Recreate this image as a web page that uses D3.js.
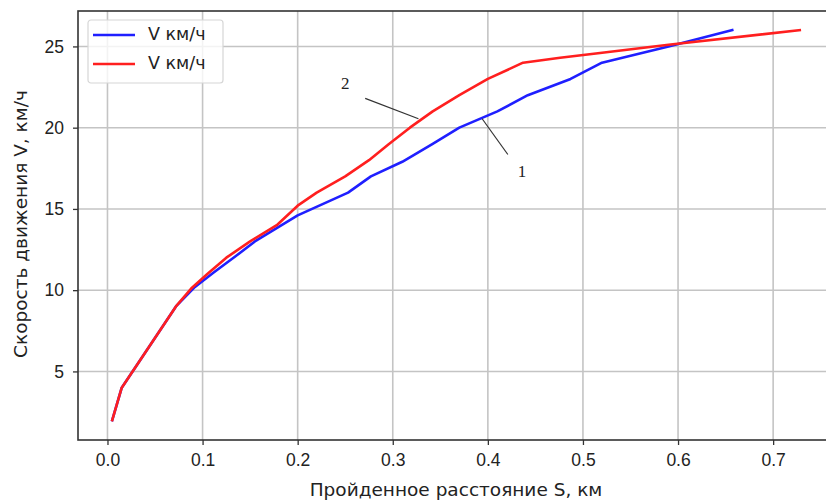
<!DOCTYPE html>
<html>
<head>
<meta charset="utf-8">
<script src="https://cdn.jsdelivr.net/npm/d3@7"></script>
<style>
  body { margin: 0; background: #fff; }
  svg { display: block; font-family: "DejaVu Sans", sans-serif; }
  .tick text { font-size: 17.5px; fill: #222; }
  .annot { font-family: "Liberation Serif", "DejaVu Serif", serif; font-size: 17px; fill: #222; }
</style>
</head>
<body>
<div class="chart"></div>
<script>
// Curve 1 (blue) – distance S, km and speed V, km/h
const s1 = [0.005, 0.015, 0.072, 0.092, 0.112, 0.135, 0.155, 0.2, 0.253, 0.277, 0.31, 0.342, 0.37, 0.41, 0.442, 0.487, 0.52, 0.59, 0.657];
const v1 = [2, 4, 9, 10.2, 11.1, 12.1, 13, 14.6, 16, 17, 17.9, 19, 20, 21, 22, 23, 24, 25, 26];
// Curve 2 (red)
const s2 = [0.005, 0.015, 0.072, 0.088, 0.105, 0.125, 0.15, 0.178, 0.2, 0.22, 0.25, 0.275, 0.296, 0.318, 0.342, 0.37, 0.4, 0.437, 0.476, 0.518, 0.59, 0.728];
const v2 = [2, 4, 9, 10.1, 11, 12, 13, 14, 15.2, 16, 17, 18, 19, 20, 21, 22, 23, 24, 24.3, 24.6, 25.1, 26];

const xTicks = [0, 0.1, 0.2, 0.3, 0.4, 0.5, 0.6, 0.7];
const yTicks = [5, 10, 15, 20, 25];
const legendLabels = ["V км/ч", "V км/ч"];
const colors = ["#1f1fff", "#ff1f1f"];

// callouts: label text, label point, leader start, leader end (data coords)
const callouts = [
    { text: "2", label: [0.250, 22.6], from: [0.271, 21.8], to: [0.327, 20.55] },
    { text: "1", label: [0.436, 17.2], from: [0.394, 20.55], to: [0.421, 18.35] }
];

const W = 826, H = 500;
const margin = { top: 11, right: -8, bottom: 60, left: 78 };

const svg = d3.select(".chart")
    .append("svg")
    .attr("width", W)
    .attr("height", H);

const scaleX = d3.scaleLinear()
    .domain([-0.031, 0.764])
    .range([margin.left, W - margin.right]);

const scaleY = d3.scaleLinear()
    .domain([0.78, 27.18])
    .range([H - margin.bottom, margin.top]);

// Grid
svg.append("g")
    .selectAll("line")
    .data(xTicks)
    .enter().append("line")
    .attr("x1", d => scaleX(d)).attr("x2", d => scaleX(d))
    .attr("y1", margin.top).attr("y2", H - margin.bottom)
    .attr("stroke", "#c4c4c4").attr("stroke-width", 1.6);

svg.append("g")
    .selectAll("line")
    .data(yTicks)
    .enter().append("line")
    .attr("x1", margin.left).attr("x2", W - margin.right)
    .attr("y1", d => scaleY(d)).attr("y2", d => scaleY(d))
    .attr("stroke", "#c4c4c4").attr("stroke-width", 1.6);

// Axes
const xAxis = svg.append("g")
    .attr("transform", "translate(0," + (H - margin.bottom) + ")")
    .call(d3.axisBottom(scaleX).tickValues(xTicks).tickFormat(d3.format(".1f")).tickSize(5).tickPadding(9));

const yAxis = svg.append("g")
    .attr("transform", "translate(" + margin.left + ",0)")
    .call(d3.axisLeft(scaleY).tickValues(yTicks).tickSize(5).tickPadding(9));

[xAxis, yAxis].forEach(a => {
    a.select(".domain").remove();
    a.selectAll(".tick line").attr("stroke", "#333").attr("stroke-width", 1.3);
});

// Spines
svg.append("rect")
    .attr("x", margin.left)
    .attr("y", margin.top)
    .attr("width", W - margin.right - margin.left)
    .attr("height", H - margin.bottom - margin.top)
    .attr("fill", "none")
    .attr("stroke", "#333")
    .attr("stroke-width", 1.6);

// Lines
const series = [
    s1.map((s, i) => ({ s: s, v: v1[i] })),
    s2.map((s, i) => ({ s: s, v: v2[i] }))
];

const lineFunc = d3.line()
    .x(d => scaleX(d.s))
    .y(d => scaleY(d.v));

series.forEach((data, i) => {
    svg.append("path")
        .attr("d", lineFunc(data))
        .attr("fill", "none")
        .attr("stroke", colors[i])
        .attr("stroke-width", 2.6)
        .attr("stroke-linejoin", "round")
        .attr("stroke-linecap", "square");
});

// Callouts
callouts.forEach(c => {
    svg.append("line")
        .attr("x1", scaleX(c.from[0])).attr("y1", scaleY(c.from[1]))
        .attr("x2", scaleX(c.to[0])).attr("y2", scaleY(c.to[1]))
        .attr("stroke", "#333").attr("stroke-width", 1.2);
    svg.append("text")
        .attr("class", "annot")
        .attr("x", scaleX(c.label[0]))
        .attr("y", scaleY(c.label[1]))
        .attr("text-anchor", "middle")
        .attr("dominant-baseline", "middle")
        .text(c.text);
});

// Legend
const legend = svg.append("g").attr("transform", "translate(88,20)");
legend.append("rect")
    .attr("width", 135).attr("height", 63)
    .attr("rx", 3)
    .attr("fill", "rgba(255,255,255,0.8)")
    .attr("stroke", "#d6d6d6").attr("stroke-width", 1.2);

legendLabels.forEach((t, i) => {
    const y = 15 + i * 29;
    legend.append("line")
        .attr("x1", 5).attr("x2", 47)
        .attr("y1", y).attr("y2", y)
        .attr("stroke", colors[i]).attr("stroke-width", 2.6);
    legend.append("text")
        .attr("x", 60).attr("y", y)
        .attr("dominant-baseline", "middle")
        .attr("font-size", 17.5)
        .attr("fill", "#222")
        .text(t);
});

// Axis labels
svg.append("text")
    .attr("x", 456)
    .attr("y", 496)
    .attr("text-anchor", "middle")
    .attr("font-size", 18.5)
    .attr("fill", "#222")
    .text("Пройденное расстояние S, км");

svg.append("text")
    .attr("transform", "translate(27,224) rotate(-90)")
    .attr("text-anchor", "middle")
    .attr("font-size", 18.5)
    .attr("fill", "#222")
    .text("Скорость движения V, км/ч");
</script>
</body>
</html>
